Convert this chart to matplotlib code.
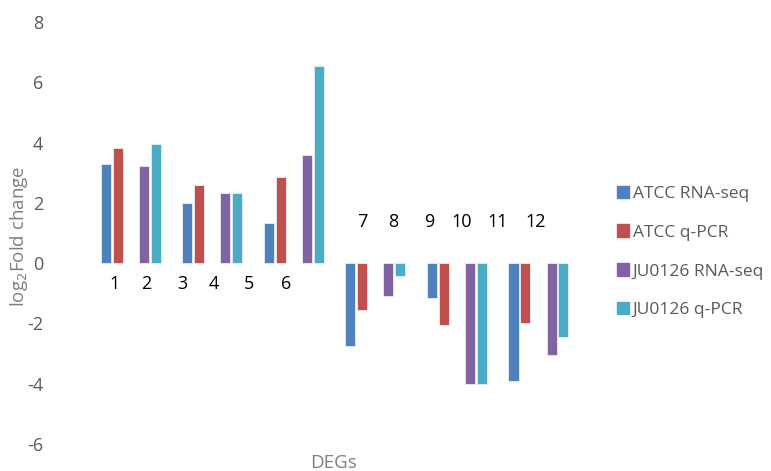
import numpy as np
import matplotlib
matplotlib.use("Agg")
import matplotlib.pyplot as plt
from matplotlib.patches import Patch

# log2 fold change per DEG; odd DEGs measured in ATCC, even DEGs in JU0126
degs = ["1", "2", "3", "4", "5", "6", "7", "8", "9", "10", "11", "12"]
strain = ["ATCC", "JU0126"] * 6
rnaseq = [3.28, 3.23, 1.99, 2.34, 1.32, 3.58, -2.75, -1.09, -1.16, -4.02, -3.91, -3.05]
qpcr = [3.83, 3.94, 2.59, 2.34, 2.86, 6.54, -1.57, -0.44, -2.06, -4.02, -1.99, -2.45]

series_names = ["ATCC RNA-seq", "ATCC q-PCR", "JU0126 RNA-seq", "JU0126 q-PCR"]
colors = {"ATCC": ("#4F81BD", "#C0504D"), "JU0126": ("#8064A2", "#4BACC6")}

fig = plt.figure(figsize=(7.71, 4.71), dpi=100)
W, H = 771, 471
ax = fig.add_axes([60 / W, 1 - 444 / H, 540 / W, (444 - 22) / H])

# groups come in pairs: ATCC group, then JU0126 group slightly to the right
pair_step = 81.5
bar_w = 10 / pair_step
off = 6 / pair_step
centers = []
for i in range(len(degs)):
    pair = i // 2
    centers.append(pair + (0 if i % 2 == 0 else 38 / pair_step))
centers = np.array(centers)

for i, c in enumerate(centers):
    c_rna, c_q = colors[strain[i]]
    ax.bar(c - off, rnaseq[i], width=bar_w, color=c_rna, edgecolor="#e8eef7", linewidth=0.6)
    ax.bar(c + off, qpcr[i], width=bar_w, color=c_q, edgecolor="#e8eef7", linewidth=0.6)

# DEG number labels sit as free text boxes near the zero line
lab_px = [115, 146, 182, 214, 249, 286, 362, 393, 429, 462, 498, 536]
lab_y = [-0.68] * 6 + [1.38] * 6
for name, px, y in zip(degs, lab_px, lab_y):
    ax.text((px - 112) / pair_step, y, name, ha="center", va="center",
            fontsize=13, color="black", family="Open Sans")

ax.set_xlim((60 - 112) / pair_step, (600 - 112) / pair_step)
ax.set_ylim(-6, 8)
ax.set_yticks(np.arange(-6, 9, 2))
ax.set_yticklabels([str(v) for v in range(-6, 9, 2)], color="#595959",
                   fontsize=13, family="Open Sans")
ax.tick_params(axis="y", length=0, pad=12)
ax.set_xticks([])
for s in ax.spines.values():
    s.set_visible(False)

fig.text(19 / W, 1 - 236 / H, "log$_2$Fold change", rotation=90, ha="center",
         va="center", color="#7f7f7f", fontsize=13.5, family="Open Sans")
fig.text(333 / W, 1 - 463 / H, "DEGs", ha="center", va="center",
         color="#7f7f7f", fontsize=13.5, family="Open Sans")

handles = [Patch(color=colors["ATCC"][0]), Patch(color=colors["ATCC"][1]),
           Patch(color=colors["JU0126"][0]), Patch(color=colors["JU0126"][1])]
leg = fig.legend(handles, series_names, loc="upper left",
                 bbox_to_anchor=(601 / W, 1 - 170 / H), frameon=False,
                 handlelength=0.72, handleheight=0.72, handletextpad=0.2,
                 labelspacing=1.3, prop={"family": "Open Sans", "size": 12.5})
for t in leg.get_texts():
    t.set_color("#595959")

fig.savefig("out.png", dpi=100)
